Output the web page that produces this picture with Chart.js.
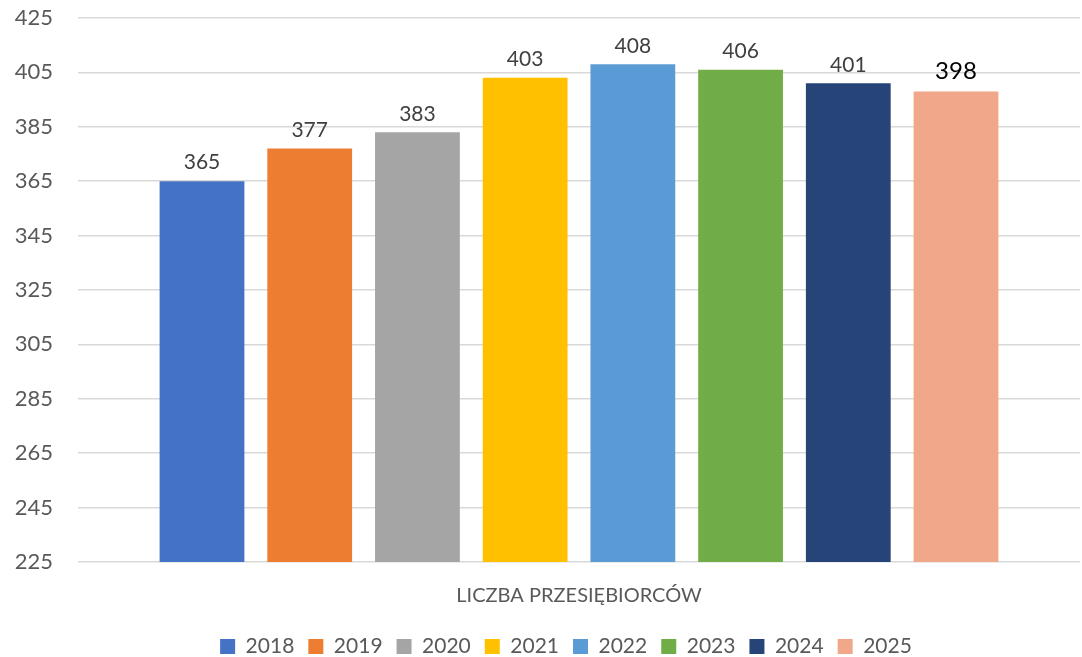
<!DOCTYPE html>
<html>
<head>
<meta charset="utf-8">
<script src="https://cdn.jsdelivr.net/npm/chart.js@4"></script>
<style>
  html, body { margin: 0; padding: 0; background: #fff; }
  #wrap { width: 1082px; height: 657px; }
</style>
</head>
<body>
<div id="wrap"><canvas id="chart"></canvas></div>
<script>
const categories = ['LICZBA PRZESIĘBIORCÓW']
const years = ['2018', '2019', '2020', '2021', '2022', '2023', '2024', '2025']
const values = [365, 377, 383, 403, 408, 406, 401, 398]
const colors = ['#4472C4', '#ED7D31', '#A5A5A5', '#FFC000', '#5B9BD5', '#70AD47', '#264478', '#F1A78A']

const fontFamily = 'Lato, "Open Sans", sans-serif'

// etykiety wartosci nad slupkami
const valueLabels = {
    id: 'valueLabels',
    afterDatasetsDraw(chart) {
        const ctx = chart.ctx
        ctx.save()
        ctx.textAlign = 'center'
        ctx.textBaseline = 'bottom'
        chart.data.datasets.forEach((ds, i) => {
            const bar = chart.getDatasetMeta(i).data[0]
            const last = i === chart.data.datasets.length - 1
            ctx.fillStyle = last ? '#000' : '#404040'
            ctx.font = (last ? '24px ' : '21px ') + fontFamily
            ctx.fillText(ds.data[0], bar.x, bar.y - 8)
        })
        ctx.restore()
    }
}

// legenda troche w prawo, jak w oryginale
const legendShift = {
    id: 'legendShift',
    afterLayout(chart) {
        if (chart.legend) {
            chart.legend.left += 23
            chart.legend.right += 23
        }
    }
}

const data = {
    labels: categories,
    datasets: years.map((year, i) => ({
        label: year,
        data: [values[i]],
        backgroundColor: colors[i],
        borderWidth: 0
    }))
}

const options = {
    responsive: true,
    maintainAspectRatio: false,
    animation: false,
    layout: { padding: { top: 0, right: 2, left: 6, bottom: -10 } },
    datasets: {
        bar: { categoryPercentage: 0.86, barPercentage: 0.787 }
    },
    plugins: {
        legend: {
            position: 'bottom',
            labels: {
                boxWidth: 15,
                boxHeight: 15,
                padding: 14,
                color: '#595959',
                font: { size: 21, family: fontFamily }
            }
        },
        tooltip: { enabled: false }
    },
    scales: {
        x: {
            grid: { display: false },
            border: { display: false },
            ticks: {
                color: '#595959',
                padding: 14,
                font: { size: 20, family: fontFamily }
            }
        },
        y: {
            min: 225,
            max: 425,
            border: { display: false },
            grid: { color: '#d9d9d9', lineWidth: 1.5, drawTicks: false },
            ticks: {
                stepSize: 20,
                padding: 25,
                color: '#595959',
                font: { size: 22, family: fontFamily }
            },
            afterFit(scale) {
                scale.width = 72
                scale.paddingTop = 18
            }
        }
    }
}

new Chart('chart', { type: 'bar', data, options, plugins: [valueLabels, legendShift] })
</script>
</body>
</html>
